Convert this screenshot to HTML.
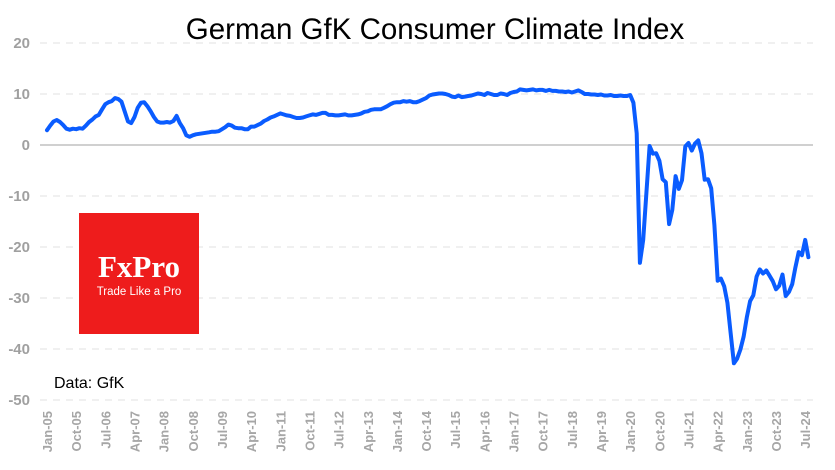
<!DOCTYPE html>
<html><head><meta charset="utf-8"><style>
body{margin:0;background:#fff;}
svg{display:block;font-family:"Liberation Sans",Arial,sans-serif;}
</style></head><body>
<svg id="chart" width="835" height="470" viewBox="0 0 835 470">
<text x="435" y="39" font-size="29.5" text-anchor="middle" fill="#000">German GfK Consumer Climate Index</text>
<g id="grid"></g>
<g id="yticks"></g>
<g id="xticks"></g>
<g>
<rect x="79" y="213" width="120" height="121" fill="#ee1c1c"/>
<text x="139" y="277" font-family="'Liberation Serif',serif" font-weight="bold" font-size="31" fill="#fff" text-anchor="middle">FxPro</text>
<text x="139" y="295" font-size="11.5" fill="#fff" text-anchor="middle">Trade Like a Pro</text>
</g>
<text x="54" y="388" font-size="16" fill="#000">Data: GfK</text>
<path id="line" fill="none" stroke="#0a5cff" stroke-width="4" stroke-linejoin="round" stroke-linecap="round"/>
</svg>
<script>
const yTicks=[20,10,0,-10,-20,-30,-40,-50];
const xLabels=["Jan-05","Oct-05","Jul-06","Apr-07","Jan-08","Oct-08","Jul-09","Apr-10","Jan-11","Oct-11","Jul-12","Apr-13","Jan-14","Oct-14","Jul-15","Apr-16","Jan-17","Oct-17","Jul-18","Apr-19","Jan-20","Oct-20","Jul-21","Apr-22","Jan-23","Oct-23","Jul-24"];
const values2005_2009=[2.9,3.8,4.6,4.9,4.5,3.9,3.2,3.0,3.2,3.1,3.3,3.2,
3.8,4.5,5.0,5.6,5.9,7.0,8.0,8.4,8.6,9.2,9.0,8.5,
6.5,4.6,4.3,5.5,7.3,8.3,8.4,7.6,6.6,5.5,4.6,4.4,
4.4,4.5,4.4,4.7,5.7,4.3,3.3,1.9,1.6,1.9,2.1,2.2,
2.3,2.4,2.5,2.6,2.6,2.7,3.1,3.5,4.0,3.8,3.4,3.3];
const values2010_2014=[3.3,3.1,3.1,3.6,3.6,3.9,4.2,4.7,5.0,5.4,5.6,5.9,
6.2,6.0,5.8,5.7,5.5,5.3,5.3,5.4,5.6,5.8,6.0,5.9,
6.1,6.3,6.3,5.9,5.9,5.8,5.8,5.9,6.0,5.8,5.8,5.9,
6.0,6.2,6.5,6.6,6.9,7.0,7.0,7.0,7.3,7.6,8.0,8.3,
8.4,8.4,8.6,8.5,8.6,8.4,8.4,8.6,8.9,9.2,9.7,9.9];
const values2015_2019=[10.0,10.1,10.1,10.0,9.8,9.5,9.4,9.7,9.4,9.5,9.6,9.7,
9.9,10.1,10.0,9.8,10.2,10.0,9.8,9.8,10.1,10.0,9.8,10.2,
10.4,10.5,10.9,10.8,10.7,10.8,10.9,10.7,10.8,10.8,10.6,10.8,
10.6,10.6,10.5,10.5,10.4,10.5,10.3,10.5,10.7,10.4,10.0,10.0,
9.9,9.9,9.8,9.9,9.7,9.7,9.8,9.6,9.6,9.7,9.6];
const values2020_2024=[9.6,9.8,8.3,2.3,-23.1,-18.6,-9.4,-0.2,-1.7,-1.6,-3.1,-6.7,
-7.3,-15.5,-12.7,-6.1,-8.6,-6.9,-0.3,0.4,-1.1,0.3,0.9,-1.6,
-6.8,-6.7,-8.5,-15.7,-26.6,-26.2,-27.7,-30.9,-36.8,-42.8,-41.9,-40.1,
-37.6,-33.8,-30.6,-29.5,-25.8,-24.4,-25.2,-24.6,-25.6,-26.7,-28.3,-27.6,
-25.4,-29.6,-28.8,-27.3,-24.0,-21.0,-21.6,-18.6,-22.0];
const series=[].concat(values2005_2009,values2010_2014,values2015_2019,values2020_2024);
const NS="http://www.w3.org/2000/svg";
const xs=i=>47+i*3.24;
const ys=v=>145-v*5.1;
const grid=document.getElementById('grid'),yt=document.getElementById('yticks'),xt=document.getElementById('xticks');
yTicks.forEach(v=>{
 const l=document.createElementNS(NS,'line');
 l.setAttribute('x1',40);l.setAttribute('x2',813);l.setAttribute('y1',ys(v));l.setAttribute('y2',ys(v));
 l.setAttribute('stroke',v===0?'#d0d0d0':'#ebebeb');l.setAttribute('stroke-width',v===0?2:1.5);
 if(v!==0)l.setAttribute('stroke-dasharray','7,6');
 
 
 grid.appendChild(l);
 const t=document.createElementNS(NS,'text');
 t.setAttribute('x',30);t.setAttribute('y',ys(v)+5);t.setAttribute('text-anchor','end');
 t.setAttribute('font-size','15');t.setAttribute('font-weight','bold');t.setAttribute('fill','#a0a0a0');
 t.textContent=v;
 
 
 yt.appendChild(t);
});
xLabels.forEach((s,k)=>{
 const x=xs(k*9)+5;
 const t=document.createElementNS(NS,'text');
 t.setAttribute('transform','translate('+x+',411) rotate(-90)');
 t.setAttribute('text-anchor','end');t.setAttribute('font-size','13');t.setAttribute('font-weight','bold');t.setAttribute('fill','#a6a6a6');
 t.textContent=s;
 
 
 xt.appendChild(t);
});
document.getElementById('line').setAttribute('d',series.map((v,i)=>(i?'L':'M')+xs(i).toFixed(1)+','+ys(v).toFixed(1)).join(''));
</script>
</body></html>
